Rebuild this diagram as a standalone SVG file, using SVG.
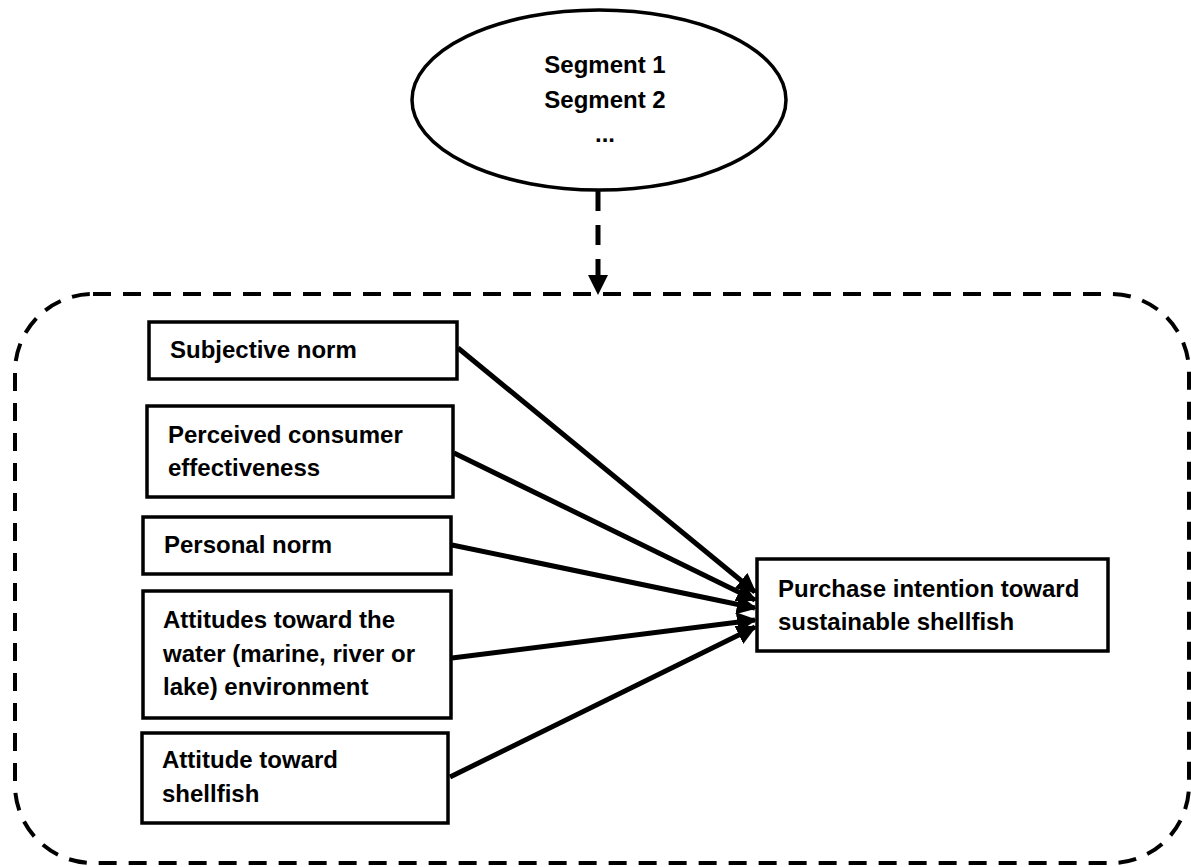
<svg xmlns="http://www.w3.org/2000/svg" width="1191" height="867" viewBox="0 0 1191 867">
<style>
.box{fill:#fff;stroke:#000;stroke-width:3.5}
.t{font-family:"Liberation Sans",Arial,sans-serif;font-weight:bold;font-size:24px;fill:#000}
.dash{fill:none;stroke:#000;stroke-width:4;stroke-dasharray:18 12}
.conn{stroke:#000;stroke-width:5;fill:none}
</style>
<defs>
<marker id="ah" viewBox="0 0 10 10" refX="9" refY="5" markerWidth="4" markerHeight="4" orient="auto" markerUnits="strokeWidth">
<path d="M0,0 L10,5 L0,10 z" fill="#000"/>
</marker>
</defs>
<rect width="1191" height="867" fill="#fff"/>
<g id="container">
<rect x="15" y="294" width="1174" height="569" rx="78" ry="78" class="dash"/>
</g>
<g id="segments">
<ellipse cx="599" cy="100" rx="187" ry="90" fill="#fff" stroke="#000" stroke-width="3.5"/>
<text class="t" x="605" y="73" text-anchor="middle">Segment 1</text>
<text class="t" x="605" y="108" text-anchor="middle">Segment 2</text>
<text class="t" x="605" y="142" text-anchor="middle">...</text>
</g>
<g id="connectors">
<line x1="598" y1="191" x2="598" y2="293" stroke="#000" stroke-width="5" stroke-dasharray="20 14" marker-end="url(#ah)"/>
<line class="conn" x1="458" y1="348" x2="755" y2="592" marker-end="url(#ah)"/>
<line class="conn" x1="454" y1="453" x2="755" y2="600" marker-end="url(#ah)"/>
<line class="conn" x1="452" y1="545" x2="755" y2="608" marker-end="url(#ah)"/>
<line class="conn" x1="452" y1="658" x2="755" y2="620" marker-end="url(#ah)"/>
<line class="conn" x1="450" y1="777" x2="755" y2="627" marker-end="url(#ah)"/>
</g>
<g id="subjective-norm">
<rect class="box" x="149" y="322" width="308" height="57"/>
<text class="t" x="170" y="358">Subjective norm</text>
</g>
<g id="perceived-consumer-effectiveness">
<rect class="box" x="147" y="406" width="306" height="91"/>
<text class="t" x="168" y="443">Perceived consumer</text>
<text class="t" x="168" y="476">effectiveness</text>
</g>
<g id="personal-norm">
<rect class="box" x="143" y="517" width="308" height="57"/>
<text class="t" x="164" y="553">Personal norm</text>
</g>
<g id="attitudes-water">
<rect class="box" x="143" y="591" width="308" height="127"/>
<text class="t" x="163" y="628">Attitudes toward the</text>
<text class="t" x="163" y="662">water (marine, river or</text>
<text class="t" x="163" y="695">lake) environment</text>
</g>
<g id="attitude-shellfish">
<rect class="box" x="142" y="733" width="306" height="90"/>
<text class="t" x="162" y="768">Attitude toward</text>
<text class="t" x="162" y="802">shellfish</text>
</g>
<g id="purchase-intention">
<rect class="box" x="757" y="559" width="351" height="92"/>
<text class="t" x="778" y="597">Purchase intention toward</text>
<text class="t" x="778" y="630">sustainable shellfish</text>
</g>
</svg>
